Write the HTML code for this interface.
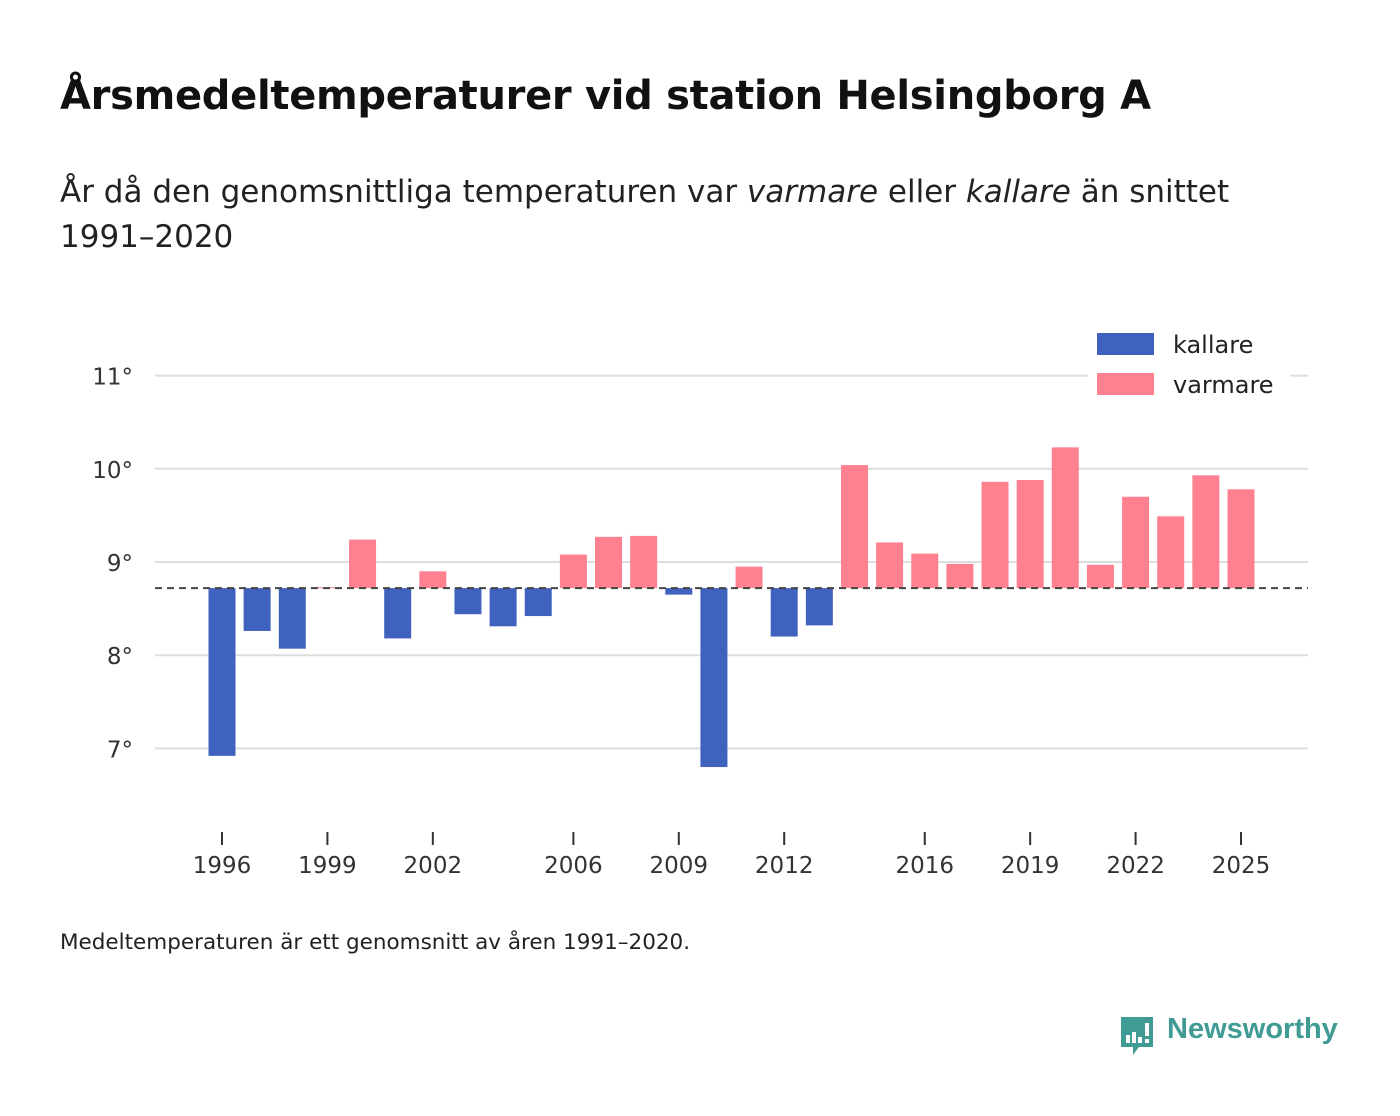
<!DOCTYPE html>
<html><head><meta charset="utf-8">
<style>
body{margin:0;background:#fff;font-family:"DejaVu Sans","Liberation Sans",sans-serif;color:#111;}
#wrap{position:relative;width:1400px;height:1116px;overflow:hidden;}
h1{position:absolute;left:60px;top:73px;margin:0;font-size:40px;font-weight:bold;letter-spacing:-0.3px;white-space:nowrap;}
.sub{position:absolute;left:60px;top:170px;font-size:31px;line-height:45px;color:#222;width:1250px;}
.foot{position:absolute;left:60px;top:930px;font-size:21.5px;color:#222;white-space:nowrap;}
svg text{font-family:"DejaVu Sans","Liberation Sans",sans-serif;}
</style></head><body>
<div id="wrap">
<h1>Årsmedeltemperaturer vid station Helsingborg A</h1>
<div class="sub">År då den genomsnittliga temperaturen var <i>varmare</i> eller <i>kallare</i> än snittet 1991–2020</div>
<svg id="chart" width="1400" height="1116" style="position:absolute;left:0;top:0"></svg>
<div class="foot">Medeltemperaturen är ett genomsnitt av åren 1991–2020.</div>
<div style="position:absolute;left:1119px;top:1013px;height:44px;">
<svg width="36" height="44" style="position:absolute;left:0;top:2px"><path d="M2 2h32v30h-14l-6 8v-8h-12z" fill="#3f9b94"/><rect x="7" y="20" width="4" height="8" fill="#fff"/><rect x="13" y="17" width="4" height="11" fill="#fff"/><rect x="19" y="22" width="4" height="6" fill="#fff"/><rect x="26" y="8" width="4" height="13" fill="#fff"/><rect x="26" y="24" width="4" height="4" fill="#fff"/></svg>
<span style="position:absolute;left:48px;top:0px;font-family:'Liberation Sans',sans-serif;font-size:29px;font-weight:bold;color:#3f9b94;white-space:nowrap;">Newsworthy</span>
</div>
</div>
<script>
const years=[1996,1997,1998,1999,2000,2001,2002,2003,2004,2005,2006,2007,2008,2009,2010,2011,2012,2013,2014,2015,2016,2017,2018,2019,2020,2021,2022,2023,2024,2025];
const temps=[6.92,8.26,8.07,8.73,9.24,8.18,8.90,8.44,8.31,8.42,9.08,9.27,9.28,8.65,6.80,8.95,8.20,8.32,10.04,9.21,9.09,8.98,9.86,9.88,10.23,8.97,9.70,9.49,9.93,9.78];
const average=8.72;
const yTicks=[7,8,9,10,11];
const xTickYears=[1996,1999,2002,2006,2009,2012,2016,2019,2022,2025];
const legendLabels=["kallare","varmare"];

const svg=document.getElementById('chart');
const NS='http://www.w3.org/2000/svg';
function x(yr){return 222+(yr-1996)*(1241-222)/29;}
function y(v){return 562-(v-9)*93.2;}
function mk(t,a){const e=document.createElementNS(NS,t);for(const k in a)e.setAttribute(k,a[k]);svg.appendChild(e);return e;}
const BLUE='#4062bf',PINK='#ff808f';
yTicks.forEach(v=>{
  const l=mk('line',{x1:155,x2:1308,y1:y(v),y2:y(v),stroke:'#dddddd','stroke-width':2});
  
  
  const t=mk('text',{x:133,y:y(v)+9,'text-anchor':'end','font-size':23,fill:'#333'});
  t.textContent=v+'°';
  
  
});
years.forEach((yr,i)=>{
  const v=temps[i];const a=y(average),b=y(v);
  const r=mk('rect',{x:x(yr)-13.5,y:Math.min(a,b),width:27,height:Math.max(1,Math.abs(a-b)),fill:v<average?BLUE:PINK});
  
  
});
const d=mk('line',{x1:155,x2:1308,y1:y(average),y2:y(average),stroke:'#444','stroke-width':2,'stroke-dasharray':'7,5'});


xTickYears.forEach(yr=>{
  const l=mk('line',{x1:x(yr),x2:x(yr),y1:832,y2:845,stroke:'#333','stroke-width':2});
  
  
  const t=mk('text',{x:x(yr),y:873,'text-anchor':'middle','font-size':23,fill:'#333'});
  t.textContent=yr;
  
  
});
const lg=mk('rect',{x:1088,y:322,width:202,height:88,fill:'#fff'});


legendLabels.forEach((lab,i)=>{
  const r=mk('rect',{x:1097,y:333+i*40,width:57,height:22,fill:i?PINK:BLUE});
  
  
  const t=mk('text',{x:1173,y:353+i*40,'font-size':24,fill:'#222'});
  t.textContent=lab;
  
  
});
</script>
</body></html>
